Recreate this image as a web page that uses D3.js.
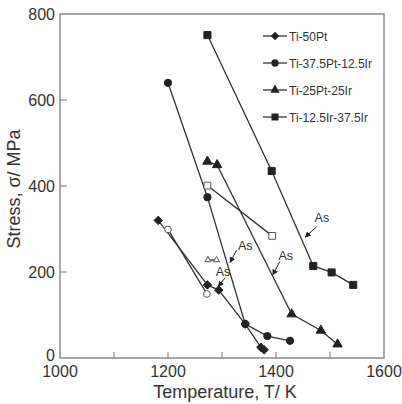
<!DOCTYPE html>
<html lang="en">
<head>
  <meta charset="UTF-8">
  <title>Stress vs Temperature</title>
  <script src="https://d3js.org/d3.v7.min.js"></script>
  <style>
    body
    {
      margin: 0;
      padding: 0;
      background-color: #fff;
      font-family: "Liberation Sans", Arial, sans-serif;
    }
  </style>
</head>
<body>
  <svg width="402" height="404"></svg>
  <script>
    const width = 402;
    const height = 404;
    const margin = { top: 14, right: 18, bottom: 46, left: 60 };

    // temperatures (K) and stresses (MPa)
    const pt50Temp = [1182, 1273, 1294, 1343, 1372, 1378];
    const pt50Stress = [320, 170, 158, 79, 25, 19];

    const pt375Temp = [1200, 1273, 1343, 1384, 1426];
    const pt375Stress = [640, 374, 79, 51, 40];

    const pt25Temp = [1273, 1291, 1429, 1483, 1514];
    const pt25Stress = [457, 449, 102, 64, 32];

    const ir375Temp = [1273, 1392, 1469, 1503, 1543];
    const ir375Stress = [751, 435, 214, 199, 170];

    // open symbols
    const openCircleTemp = [1200, 1272];
    const openCircleStress = [299, 149];
    const openSquareTemp = [1273, 1393];
    const openSquareStress = [401, 284];
    const openTriTemp = [1274, 1290];
    const openTriStress = [228, 228];

    // "As" labels: text position, arrow start, arrow tip
    const asText = [[1485, 326], [1343, 260], [1418, 238], [1302, 199]];
    const asFrom = [[1475, 305], [1327, 251], [1407, 224], [1306, 187]];
    const asTo = [[1454, 281], [1315, 222], [1394, 193], [1293, 166]];

    const seriesNames = ["Ti-50Pt", "Ti-37.5Pt-12.5Ir", "Ti-25Pt-25Ir", "Ti-12.5Ir-37.5Ir"];
    const xTicks = [1000, 1200, 1400, 1600];
    const xMinor = [1100, 1200, 1300, 1400, 1500];
    const yTicks = [0, 200, 400, 600, 800];

    const svg = d3.select("svg")
      .attr("viewBox", [0, 0, width, height]);

    const x = d3.scaleLinear().domain([1000, 1600]).range([margin.left, width - margin.right]);
    const y = d3.scaleLinear().domain([0, 800]).range([height - margin.bottom, margin.top]);

    const defs = svg.append("defs");
    defs.append("marker")
      .attr("id", "arrow")
      .attr("viewBox", "0 0 10 10")
      .attr("refX", 9)
      .attr("refY", 5)
      .attr("markerWidth", 6)
      .attr("markerHeight", 6)
      .attr("markerUnits", "userSpaceOnUse")
      .attr("orient", "auto")
      .append("path")
      .attr("d", "M0,0 L10,5 L0,10 z")
      .attr("fill", "#222");

    // frame
    svg.append("rect")
      .attr("x", x(1000))
      .attr("y", y(800))
      .attr("width", x(1600) - x(1000))
      .attr("height", y(0) - y(800))
      .attr("fill", "none")
      .attr("stroke", "#8c8c8c")
      .attr("stroke-width", 1.5);

    // inward ticks
    svg.append("g")
      .selectAll("line")
      .data(xMinor)
      .enter()
      .append("line")
      .attr("x1", d => x(d))
      .attr("x2", d => x(d))
      .attr("y1", y(0))
      .attr("y2", y(0) - 6)
      .attr("stroke", "#8c8c8c")
      .attr("stroke-width", 1.2);

    svg.append("g")
      .selectAll("line")
      .data([200, 400, 600])
      .enter()
      .append("line")
      .attr("x1", x(1000))
      .attr("x2", x(1000) + 7)
      .attr("y1", d => y(d))
      .attr("y2", d => y(d))
      .attr("stroke", "#8c8c8c")
      .attr("stroke-width", 1.2);

    // tick labels
    svg.append("g")
      .selectAll("text")
      .data(xTicks)
      .enter()
      .append("text")
      .attr("x", d => x(d))
      .attr("y", y(0) + 19)
      .attr("text-anchor", "middle")
      .attr("font-size", 16)
      .attr("fill", "#333")
      .text(d => d);

    svg.append("g")
      .selectAll("text")
      .data(yTicks)
      .enter()
      .append("text")
      .attr("x", x(1000) - 5)
      .attr("y", d => y(d) + (d === 0 ? 3 : 5.5))
      .attr("text-anchor", "end")
      .attr("font-size", 16)
      .attr("fill", "#333")
      .text(d => d);

    // axis titles
    svg.append("text")
      .attr("x", (x(1000) + x(1600)) / 2 + 3)
      .attr("y", height - 6)
      .attr("text-anchor", "middle")
      .attr("font-size", 18)
      .attr("fill", "#333")
      .text("Temperature, T/ K");

    svg.append("text")
      .attr("transform", `translate(20, ${y(400) + 3}) rotate(-90)`)
      .attr("text-anchor", "middle")
      .attr("font-size", 18)
      .attr("fill", "#333")
      .text("Stress, σ/ MPa");

    const line = d3.line().x(d => x(d[0])).y(d => y(d[1]));
    const zipped = (ts, ss) => ts.map((t, i) => [t, ss[i]]);

    const series = [
      { pts: zipped(pt50Temp, pt50Stress), sym: d3.symbolDiamond2, size: 46, fill: "#222" },
      { pts: zipped(pt375Temp, pt375Stress), sym: d3.symbolCircle, size: 42, fill: "#222" },
      { pts: zipped(pt25Temp, pt25Stress), sym: d3.symbolTriangle, size: 38, fill: "#222" },
      { pts: zipped(ir375Temp, ir375Stress), sym: d3.symbolSquare, size: 50, fill: "#222" },
      { pts: zipped(openCircleTemp, openCircleStress), sym: d3.symbolCircle, size: 36, fill: "#fff" },
      { pts: zipped(openSquareTemp, openSquareStress), sym: d3.symbolSquare, size: 46, fill: "#fff" },
      { pts: zipped(openTriTemp, openTriStress), sym: d3.symbolTriangle, size: 16, fill: "#fff" }
    ];

    series.forEach(s => {
      svg.append("path")
        .attr("d", line(s.pts))
        .attr("fill", "none")
        .attr("stroke", "#333")
        .attr("stroke-width", 1.3);
    });

    series.forEach(s => {
      svg.append("g")
        .selectAll("path")
        .data(s.pts)
        .enter()
        .append("path")
        .attr("transform", d => `translate(${x(d[0])},${y(d[1])})`)
        .attr("d", d3.symbol().type(s.sym).size(s.size))
        .attr("fill", s.fill)
        .attr("stroke", s.fill === "#fff" ? "#555" : "#222")
        .attr("stroke-width", 1);
    });

    // "As" annotations
    asText.forEach((p, i) => {
      svg.append("text")
        .attr("x", x(p[0]))
        .attr("y", y(p[1]) + 4)
        .attr("text-anchor", "middle")
        .attr("font-size", 12.5)
        .attr("fill", "#333")
        .text("As");

      svg.append("line")
        .attr("x1", x(asFrom[i][0]))
        .attr("y1", y(asFrom[i][1]))
        .attr("x2", x(asTo[i][0]))
        .attr("y2", y(asTo[i][1]))
        .attr("stroke", "#222")
        .attr("stroke-width", 1)
        .attr("marker-end", "url(#arrow)");
    });

    // legend
    const legendSyms = [d3.symbolDiamond2, d3.symbolCircle, d3.symbolTriangle, d3.symbolSquare];
    const legendSizes = [46, 42, 38, 50];
    const legend = svg.append("g")
      .selectAll("g")
      .data(seriesNames)
      .enter()
      .append("g")
      .attr("transform", (d, i) => `translate(263, ${36 + i * 27})`);

    legend.append("line")
      .attr("x1", 0)
      .attr("x2", 24)
      .attr("stroke", "#333")
      .attr("stroke-width", 1.3);

    legend.append("path")
      .attr("transform", "translate(12,0)")
      .attr("d", (d, i) => d3.symbol().type(legendSyms[i]).size(legendSizes[i])())
      .attr("fill", "#222");

    legend.append("text")
      .attr("x", 26)
      .attr("y", 4.5)
      .attr("font-size", 12)
      .attr("fill", "#333")
      .text(d => d);
  </script>
</body>
</html>
